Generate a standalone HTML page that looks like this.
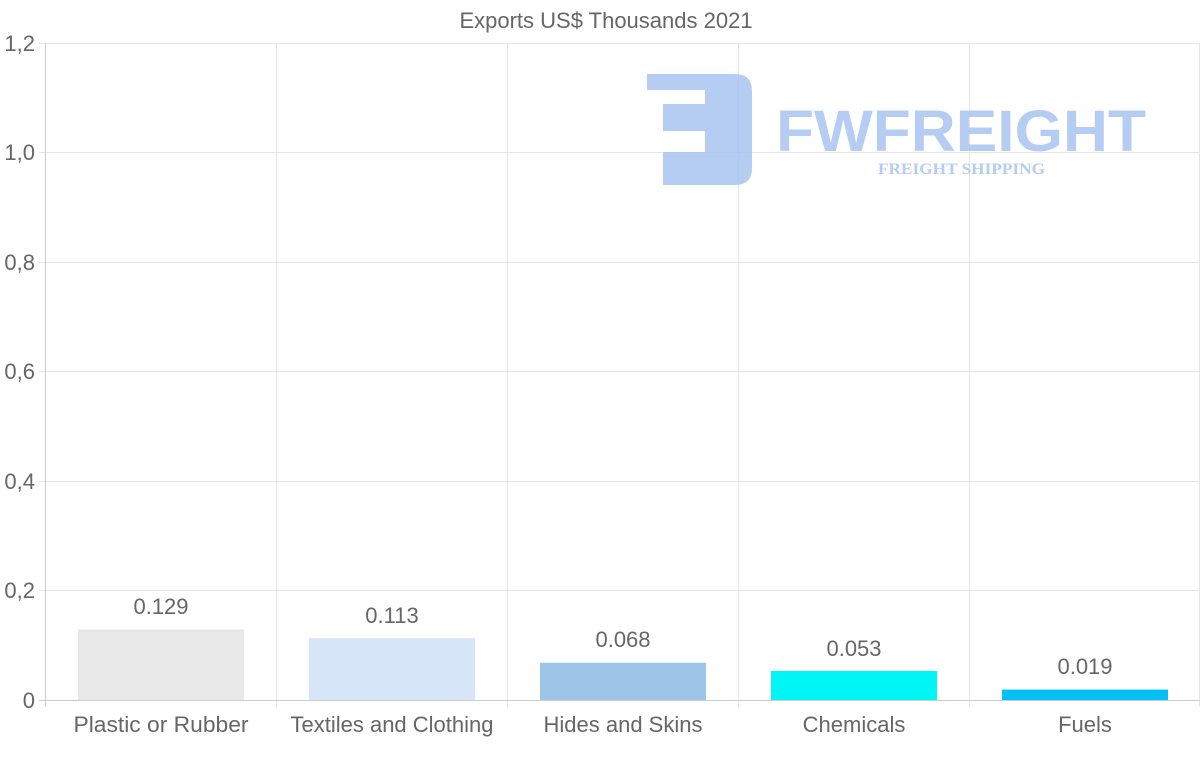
<!DOCTYPE html>
<html><head><style>body{margin:0;background:#fff}svg{display:block}text{font-family:"Liberation Sans",Arial,sans-serif}</style></head><body>
<svg width="1200" height="763" xmlns="http://www.w3.org/2000/svg">
<text x="606" y="28" text-anchor="middle" font-size="22" fill="#666">Exports US$ Thousands 2021</text>
<g stroke="#e5e5e5" stroke-width="1">
<line x1="39" y1="43.5" x2="1200" y2="43.5"/><line x1="39" y1="152.5" x2="1200" y2="152.5"/><line x1="39" y1="262.5" x2="1200" y2="262.5"/><line x1="39" y1="371.5" x2="1200" y2="371.5"/><line x1="39" y1="481.5" x2="1200" y2="481.5"/><line x1="39" y1="590.5" x2="1200" y2="590.5"/>
<line x1="276.5" y1="43" x2="276.5" y2="707"/><line x1="507.5" y1="43" x2="507.5" y2="707"/><line x1="738.5" y1="43" x2="738.5" y2="707"/><line x1="969.5" y1="43" x2="969.5" y2="707"/><line x1="1199.5" y1="43" x2="1199.5" y2="707"/>
</g>
<line x1="45.5" y1="43" x2="45.5" y2="707" stroke="#ccc"/>
<line x1="39" y1="700.5" x2="1200" y2="700.5" stroke="#ccc"/>
<g font-size="22" fill="#666" text-anchor="end">
<text x="35" y="51">1,2</text><text x="35" y="160">1,0</text><text x="35" y="270">0,8</text><text x="35" y="379">0,6</text><text x="35" y="489">0,4</text><text x="35" y="598">0,2</text><text x="35" y="708">0</text>
</g>
<g opacity="0.85">
<path d="M647 74 H735 Q752 74 752 91 V168 Q752 185 735 185 H663 V152 H705 V131 H663 V104 H705 V90 H647 Z" fill="#a9c4f1"/>
<text x="776" y="151" font-size="58" font-weight="bold" fill="#a9c4f1" textLength="370" lengthAdjust="spacingAndGlyphs">FWFREIGHT</text>
<text x="878" y="174" font-size="16" font-weight="bold" fill="#a9c4f1" font-family="Liberation Serif,serif" textLength="167" lengthAdjust="spacingAndGlyphs" style="font-family:'Liberation Serif',serif">FREIGHT SHIPPING</text>
</g>
<rect x="78" y="629.4" width="166" height="70.6" fill="#e8e8e8"/>
<rect x="309" y="638.1" width="166" height="61.9" fill="#d6e6f8"/>
<rect x="540" y="662.8" width="166" height="37.2" fill="#9cc5e8"/>
<rect x="771" y="671" width="166" height="29" fill="#00f5f5"/>
<rect x="1002" y="689.6" width="166" height="10.4" fill="#00c0f5"/>
<g font-size="22" fill="#666" text-anchor="middle">
<text x="161" y="614">0.129</text><text x="392" y="623">0.113</text><text x="623" y="647">0.068</text><text x="854" y="656">0.053</text><text x="1085" y="674">0.019</text>
<text x="161" y="732" textLength="175" lengthAdjust="spacingAndGlyphs">Plastic or Rubber</text><text x="392" y="732">Textiles and Clothing</text><text x="623" y="732">Hides and Skins</text><text x="854" y="732">Chemicals</text><text x="1085" y="732">Fuels</text>
</g>
</svg>
</body></html>
